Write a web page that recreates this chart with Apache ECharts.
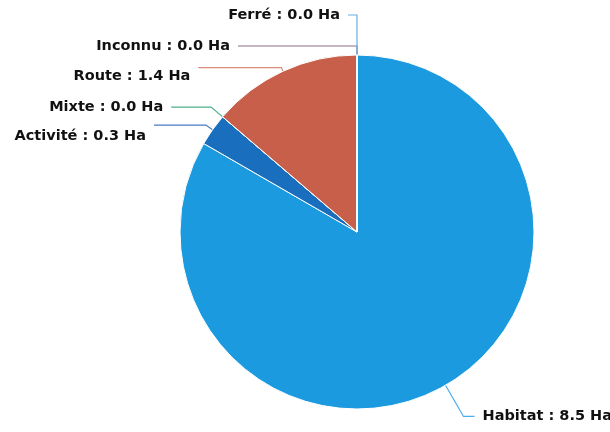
<!DOCTYPE html>
<html>
<head>
<meta charset="utf-8">
<script src="https://cdn.jsdelivr.net/npm/echarts@6/dist/echarts.min.js"></script>
<style>
html,body{margin:0;padding:0;background:#fff;}
#chart{width:610px;height:432px;}
</style>
</head>
<body>
<div id="chart"></div>
<script>
var categories = ['Habitat', 'Activité', 'Mixte', 'Route', 'Inconnu', 'Ferré'];
var values = [8.5, 0.3, 0.0, 1.4, 0.0, 0.0];
var unit = 'Ha';

var sliceColors = {
  'Habitat': '#1b9ae0',
  'Activité': '#1a6ebe',
  'Mixte': '#3aa77a',
  'Route': '#c85f4a',
  'Inconnu': '#8b6a8c',
  'Ferré': '#6aaee0'
};
var lineColors = {
  'Habitat': '#4aaeec',
  'Activité': '#4a7ac4',
  'Mixte': '#4cb088',
  'Route': '#d98a78',
  'Inconnu': '#8e6e8c',
  'Ferré': '#6aaee0'
};
// [radial length, horizontal length, text drop below line end]
var lineLens = {
  'Habitat': [36, 11, 0],
  'Activité': [8, 52, 11],
  'Mixte': [15, 40, 0],
  'Route': [4, 83, 9],
  'Inconnu': [9, 119, 0],
  'Ferré': [40, 9, 0]
};

var data = categories.map(function (name, i) {
  var drop = lineLens[name][2];
  var item = {
    name: name,
    value: values[i],
    itemStyle: { color: sliceColors[name] },
    labelLine: {
      length: lineLens[name][0],
      length2: lineLens[name][1],
      lineStyle: { color: lineColors[name] }
    }
  };
  if (drop) { item.label = { lineHeight: drop * 2 }; }
  return item;
});

var chart = echarts.init(document.getElementById('chart'), null, { renderer: 'canvas' });
chart.setOption({
  animation: false,
  backgroundColor: '#ffffff',
  series: [{
    type: 'pie',
    center: [357, 232],
    radius: 177,
    startAngle: 90,
    clockwise: true,
    avoidLabelOverlap: false,
    labelLayout: { hideOverlap: false },
    data: data,
    itemStyle: { borderColor: '#ffffff', borderWidth: 1 },
    label: {
      show: true,
      position: 'outside',
      alignTo: 'none',
      overflow: 'none',
      distanceToLabelLine: 8,
      fontFamily: 'DejaVu Sans',
      fontWeight: 'bold',
      fontSize: 14.5,
      color: '#111111',
      formatter: function (p) {
        var txt = p.name + ' : ' + p.value.toFixed(1) + ' ' + unit;
        return lineLens[p.name][2] ? '\n' + txt : txt;
      }
    },
    labelLine: { show: true, smooth: false, lineStyle: { width: 1.2 } },
    emphasis: { disabled: true }
  }]
});
</script>
</body>
</html>
